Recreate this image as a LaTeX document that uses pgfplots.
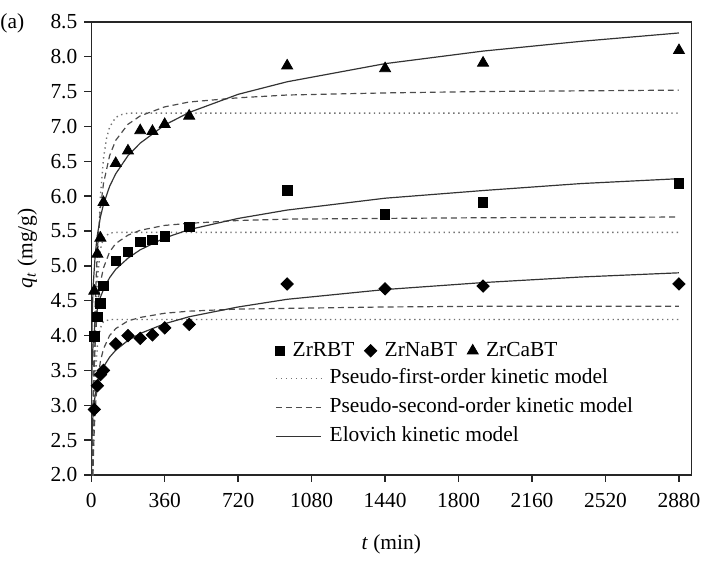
\documentclass[border=0pt]{standalone}
\usepackage{fontspec}
\setmainfont{Liberation Serif}
\usepackage{pgfplots}
\pgfplotsset{compat=1.18}
\begin{document}
\begin{tikzpicture}[font=\fontsize{10.8}{13}\selectfont]
\pgfplotsset{
  pfo/.style={black!55, line width=0.7pt, dash pattern=on 0.7pt off 1.8pt},
  pso/.style={black!70, line width=0.6pt, dash pattern=on 3pt off 2pt},
  elo/.style={black!80, line width=0.6pt},
  leg/.style={legend style={draw=none, fill=none, inner sep=0pt,
      font=\fontsize{10.8}{13}\selectfont,
      nodes={inner sep=0pt, text height=7.5pt, text depth=2.2pt},
      row sep=5pt,
      /tikz/every odd column/.append style={column sep=4pt},
      /tikz/every even column/.append style={column sep=5pt}},
    legend cell align=left,
    legend image code/.code={\draw[mark repeat=2,mark phase=2,##1] plot coordinates {(0cm,0cm) (0.4cm,0cm) (0.8cm,0cm)};}},
}
\begin{axis}[
  scale only axis, width=302.5pt, height=228.5pt,
  xmin=0, xmax=2940, ymin=2, ymax=8.5,
  xtick={0,360,...,2880}, ytick={2,2.5,...,8.5},
  xtick pos=left, ytick pos=left, tick align=outside,
  major tick length=3.5pt,
  axis line style={black!85, line width=0.7pt},
  every tick/.style={black!85, line width=0.7pt},
  tick label style={font=\fontsize{10.8}{13}\selectfont},
  label style={font=\fontsize{10.8}{13}\selectfont},
  /pgf/number format/assume math mode=true,
  /pgf/number format/1000 sep={},
  yticklabel style={/pgf/number format/fixed, /pgf/number format/fixed zerofill, /pgf/number format/precision=1},
  xticklabel style={yshift=-2pt},
  xlabel={\textit{t} (min)},
  ylabel={\textit{q}\textsubscript{\textit{t}} (mg/g)},
  xlabel style={yshift=-7pt},
  leg,
  legend style={at={(rel axis cs:0.306,0.149)}, anchor=west},
]
% pseudo-first-order
\addplot[pfo, forget plot] coordinates {(0,0)(5,1.30)(10,2.37)(15,3.24)(20,3.96)(30,5.02)(45,6.00)(60,6.54)(75,6.83)(90,6.99)(120,7.13)(150,7.17)(180,7.19)(2880,7.19)};
\addplot[pfo, forget plot] coordinates {(0,0)(5,1.62)(10,2.76)(15,3.56)(20,4.13)(30,4.81)(45,5.24)(60,5.40)(90,5.47)(120,5.48)(2880,5.48)};
\addplot[pfo, forget plot] coordinates {(0,0)(5,1.39)(10,2.33)(15,2.96)(20,3.38)(30,3.85)(45,4.11)(60,4.20)(90,4.23)(2880,4.23)};
% pseudo-second-order
\addplot[pso, forget plot] coordinates {(0,0)(5,2.06)(10,3.24)(15,4.00)(20,4.53)(30,5.23)(45,5.82)(60,6.18)(90,6.58)(120,6.80)(180,7.03)(240,7.15)(360,7.28)(480,7.35)(720,7.41)(960,7.45)(1440,7.48)(1920,7.50)(2880,7.52)};
\addplot[pso, forget plot] coordinates {(0,0)(5,2.03)(10,3.00)(15,3.56)(20,3.93)(30,4.39)(45,4.76)(60,4.97)(90,5.20)(120,5.32)(180,5.44)(240,5.51)(360,5.58)(480,5.61)(720,5.65)(960,5.67)(1440,5.68)(1920,5.69)(2880,5.70)};
\addplot[pso, forget plot] coordinates {(0,0)(5,1.48)(10,2.22)(15,2.66)(20,2.96)(30,3.33)(45,3.63)(60,3.81)(90,4.00)(120,4.10)(180,4.21)(240,4.26)(360,4.32)(480,4.35)(720,4.38)(960,4.39)(1440,4.41)(1920,4.42)(2880,4.42)};
% Elovich
\addplot[elo, forget plot] coordinates {(0.1,1.85)(0.2,2.27)(0.5,2.84)(1,3.28)(2,3.72)(5,4.30)(10,4.74)(20,5.18)(30,5.44)(45,5.70)(60,5.88)(90,6.14)(120,6.32)(180,6.58)(240,6.76)(360,7.02)(480,7.20)(720,7.46)(960,7.64)(1440,7.90)(1920,8.08)(2400,8.22)(2880,8.34)};
\addplot[elo, forget plot] coordinates {(0.05,1.76)(0.1,2.04)(0.2,2.32)(0.5,2.70)(1,2.98)(2,3.27)(5,3.64)(10,3.93)(20,4.21)(30,4.38)(45,4.55)(60,4.66)(90,4.83)(120,4.95)(180,5.11)(240,5.23)(360,5.40)(480,5.52)(720,5.68)(960,5.80)(1440,5.97)(1920,6.08)(2400,6.18)(2880,6.25)};
\addplot[elo, forget plot] coordinates {(0.5,1.87)(1,2.11)(2,2.35)(5,2.68)(10,2.92)(20,3.16)(30,3.30)(45,3.44)(60,3.55)(90,3.69)(120,3.79)(180,3.93)(240,4.03)(360,4.17)(480,4.27)(720,4.41)(960,4.52)(1440,4.66)(1920,4.76)(2400,4.84)(2880,4.90)};
% measured data
\addplot[only marks, mark=square*, mark size=2.4pt, black, forget plot] coordinates {(15,3.99)(30,4.27)(45,4.46)(60,4.71)(120,5.07)(180,5.20)(240,5.34)(300,5.37)(360,5.42)(480,5.56)(960,6.08)(1440,5.74)(1920,5.91)(2880,6.18)};
\addplot[only marks, mark=square*, mark options={rotate=45}, mark size=2.2pt, black, forget plot] coordinates {(15,2.94)(30,3.28)(45,3.44)(60,3.50)(120,3.88)(180,4.00)(240,3.96)(300,4.01)(360,4.11)(480,4.16)(960,4.74)(1440,4.67)(1920,4.71)(2880,4.74)};
\addplot[only marks, mark=triangle*, mark size=3.2pt, black, forget plot] coordinates {(15,4.64)(30,5.17)(45,5.40)(60,5.91)(120,6.47)(180,6.65)(240,6.94)(300,6.93)(360,7.03)(480,7.15)(960,7.87)(1440,7.83)(1920,7.91)(2880,8.09)};
\addlegendimage{pfo}
\addlegendentry{Pseudo-first-order kinetic model}
\addlegendimage{pso}
\addlegendentry{Pseudo-second-order kinetic model}
\addlegendimage{elo}
\addlegendentry{Elovich kinetic model}
\end{axis}
\begin{axis}[
  scale only axis, width=302.5pt, height=228.5pt,
  hide axis, xmin=0, xmax=1, ymin=0, ymax=1,
  leg, legend columns=3,
  legend style={at={(rel axis cs:0.306,0.274)}, anchor=west},
]
\addlegendimage{only marks, mark=square*, mark size=2.4pt, black}
\addlegendentry{ZrRBT}
\addlegendimage{only marks, mark=square*, mark options={rotate=45}, mark size=2.2pt, black}
\addlegendentry{ZrNaBT}
\addlegendimage{only marks, mark=triangle*, mark size=3.2pt, black}
\addlegendentry{ZrCaBT}
\end{axis}
\node[anchor=west, inner sep=0pt] at ([xshift=-46pt,yshift=-1pt]current axis.north west) {(a)};
\path ([xshift=-46pt,yshift=-36pt]current axis.south west) rectangle ([xshift=5pt,yshift=11pt]current axis.north east);
\end{tikzpicture}
\end{document}
